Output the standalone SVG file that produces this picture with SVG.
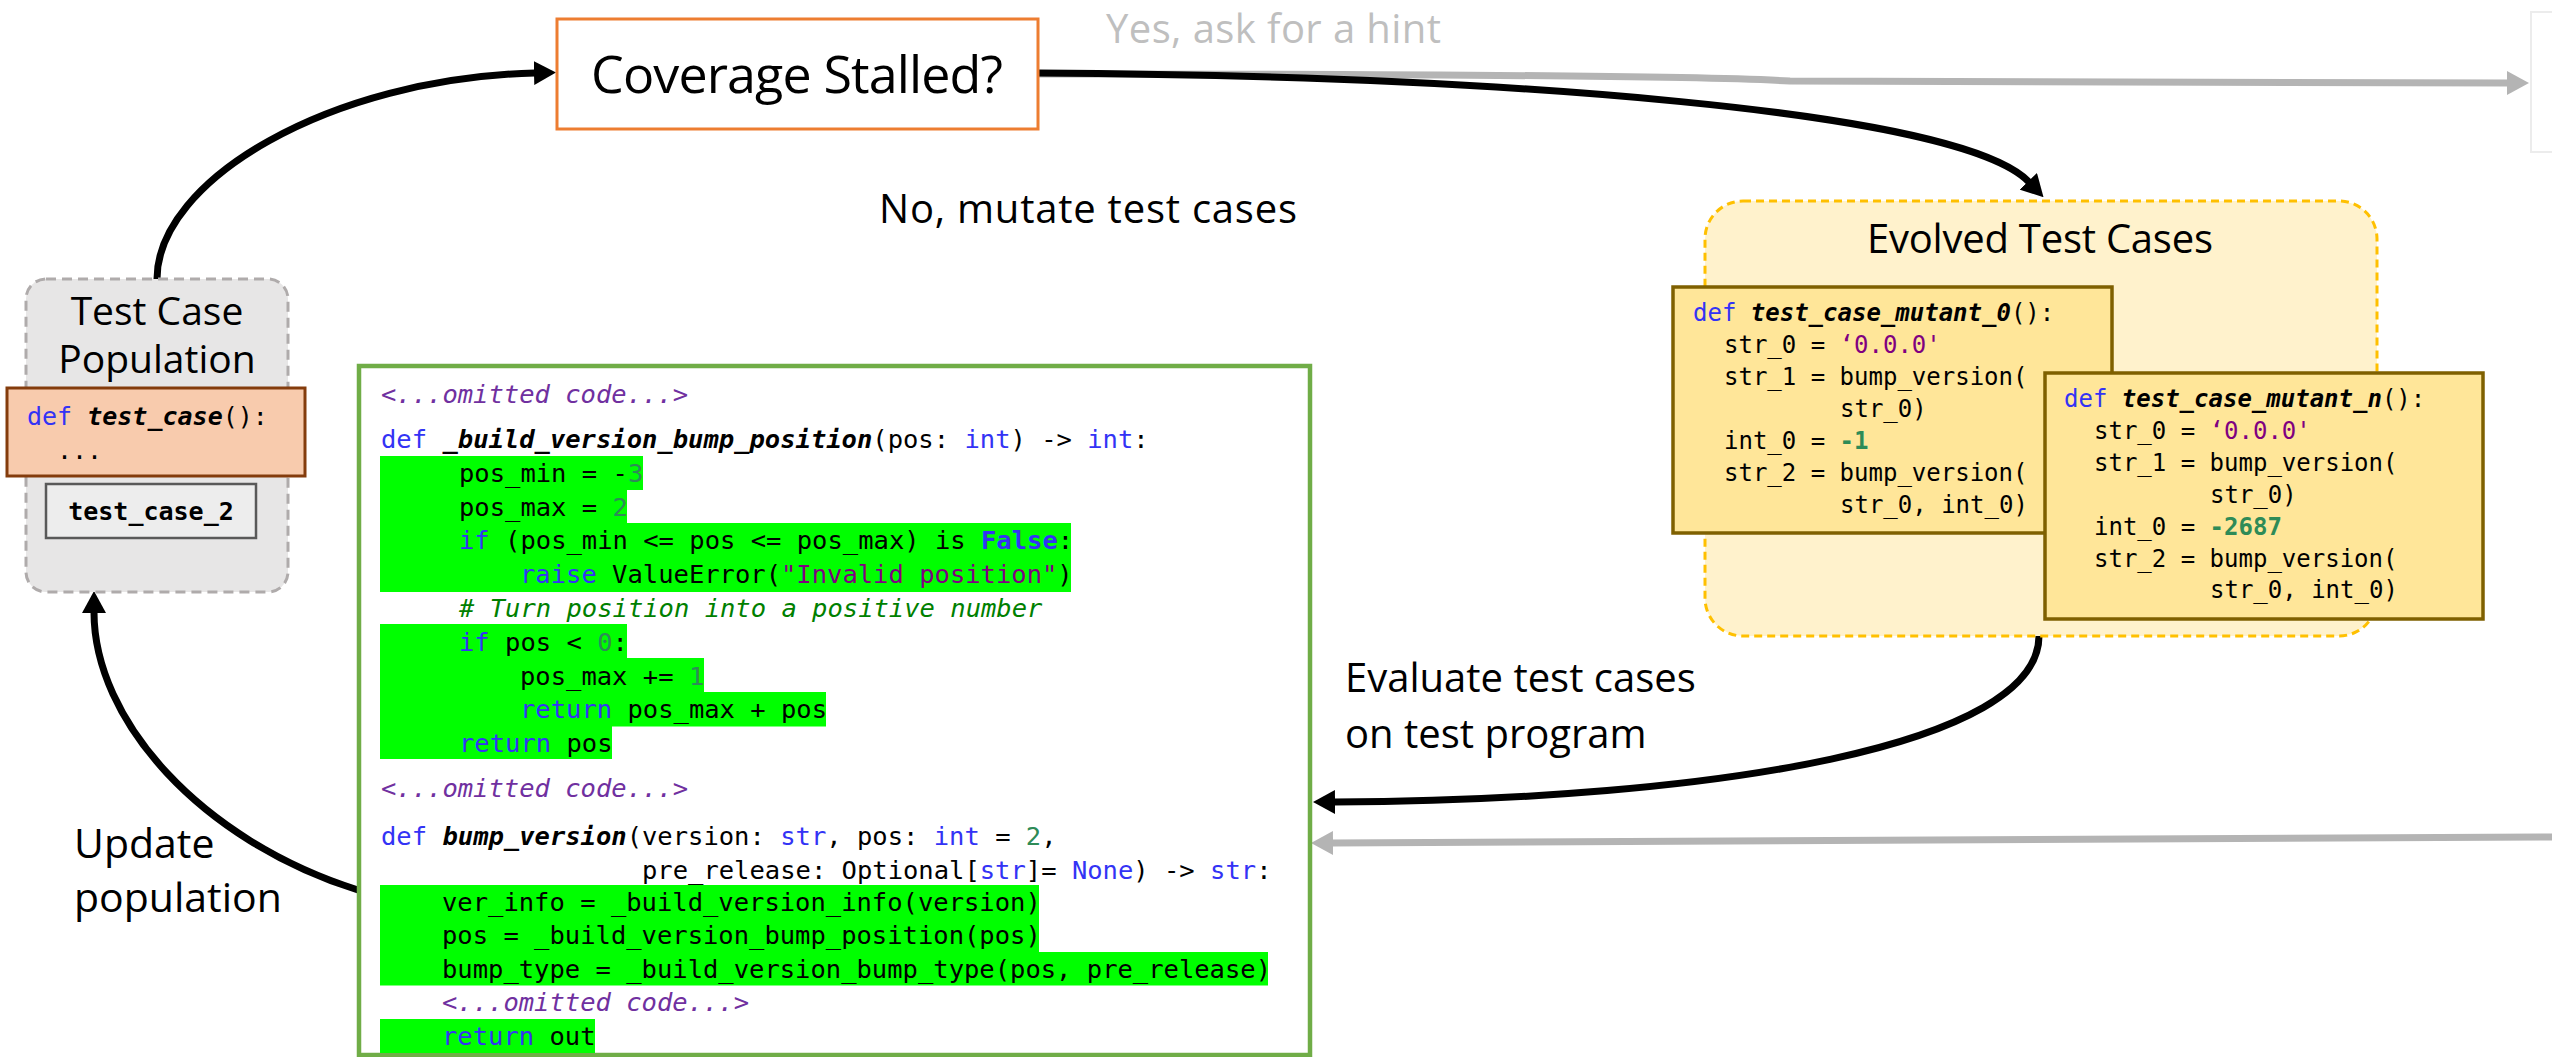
<svg xmlns="http://www.w3.org/2000/svg" width="2552" height="1057" viewBox="0 0 2552 1057">
<style>
.lbl{font-family:"Open Sans","Noto Sans","Liberation Sans",sans-serif;fill:#000}
.mono{font-family:"DejaVu Sans Mono","Liberation Mono",monospace;fill:#000}
.c{font-size:25.5px}
.t{font-size:24px}
.kw{fill:#3333F5}
.num{fill:#2E8B57}
.numb{fill:#2E8B57;font-weight:bold}
.str{fill:#800080}
.cm{fill:#008000;font-style:italic}
.om{fill:#7030A0;font-style:italic}
.fn{font-weight:bold;font-style:italic}
.hl{fill:#00FF00}
.conn{fill:none;stroke:#000;stroke-width:7}
.conng{fill:none;stroke:#B4B4B4;stroke-width:7}
</style>
<defs>
<marker id="ah" markerUnits="userSpaceOnUse" viewBox="0 -12 22 24" markerWidth="22" markerHeight="24" refX="1" refY="0" orient="auto"><path d="M0,-12 L22,0 L0,12 z" fill="#000"/></marker>
<marker id="ahg" markerUnits="userSpaceOnUse" viewBox="0 -12 22 24" markerWidth="22" markerHeight="24" refX="1" refY="0" orient="auto"><path d="M0,-12 L22,0 L0,12 z" fill="#B4B4B4"/></marker>
</defs>
<rect width="2552" height="1057" fill="#fff"/>

<g id="node-hint">
<rect x="2531" y="12" width="40" height="140" fill="#fff" stroke="#ECECEC" stroke-width="2"/>
</g>

<g id="connectors">
<path class="conng" d="M1038,74 C1400,74 1700,76 1790,81 L2508,83" marker-end="url(#ahg)"/>
<path class="conng" d="M2560,837 L1332,843" marker-end="url(#ahg)"/>
<path class="conn" d="M157,279 C157,180 330,78 535,73" marker-end="url(#ah)"/>
<path class="conn" d="M1038,73 C1500,76 1960,110 2029,182" marker-end="url(#ah)"/>
<path class="conn" d="M2039,636 C2039,745 1720,800 1334,802" marker-end="url(#ah)"/>
<path class="conn" d="M358,890 C200,840 94,720 94,612" marker-end="url(#ah)"/>
<text class="lbl" x="1106" y="43" font-size="40" style="fill:#BFBFBF" textLength="335">Yes, ask for a hint</text>
<text class="lbl" x="879" y="223" font-size="40" textLength="418">No, mutate test cases</text>
<text class="lbl" font-size="40"><tspan x="1345" y="692">Evaluate test cases</tspan><tspan x="1345" y="748">on test program</tspan></text>
<text class="lbl" font-size="41"><tspan x="74" y="858">Update</tspan><tspan x="74" y="912">population</tspan></text>
</g>

<g id="node-coverage">
<rect x="557" y="19" width="481" height="110" fill="#fff" stroke="#ED7D31" stroke-width="3"/>
<text class="lbl" x="797" y="93" font-size="52" text-anchor="middle" textLength="412">Coverage Stalled?</text>
</g>

<g id="node-population" xml:space="preserve">
<rect x="26" y="279" width="262" height="313" rx="20" fill="#E7E6E6" stroke="#AFABAB" stroke-width="3" stroke-dasharray="10,6"/>
<text class="lbl" font-size="39" text-anchor="middle"><tspan x="157" y="325">Test Case</tspan><tspan x="157" y="373">Population</tspan></text>
<rect x="7" y="388" width="298" height="88" fill="#F8CBAD" stroke="#843C0C" stroke-width="3"/>
<text class="mono" x="27" y="425" font-size="25"><tspan class="kw">def</tspan> <tspan class="fn">test_case</tspan>():</text>
<text class="mono" x="57" y="459" font-size="25">...</text>
<rect x="46" y="484" width="210" height="54" fill="#EDEDED" stroke="#595959" stroke-width="2.5"/>
<text class="mono" x="151" y="520" font-size="25" font-weight="bold" text-anchor="middle">test_case_2</text>
</g>

<g id="node-code" xml:space="preserve">
<rect x="359" y="366" width="951" height="689" fill="#fff" stroke="#70AD47" stroke-width="4.5"/>
<rect class="hl" x="380" y="456" width="263" height="34"/>
<rect class="hl" x="380" y="489.5" width="247" height="34"/>
<rect class="hl" x="380" y="523" width="691" height="69"/>
<rect class="hl" x="380" y="624" width="247" height="34.5"/>
<rect class="hl" x="380" y="658" width="324" height="34.5"/>
<rect class="hl" x="380" y="692" width="446" height="34.5"/>
<rect class="hl" x="380" y="726" width="232" height="33"/>
<rect class="hl" x="380" y="885" width="659" height="67.5"/>
<rect class="hl" x="380" y="952" width="888" height="33.5"/>
<rect class="hl" x="380" y="1019" width="215" height="34"/>
<text class="mono c om" x="381" y="403">&lt;...omitted code...&gt;</text>
<text class="mono c" x="381" y="448"><tspan class="kw">def</tspan> <tspan class="fn">_build_version_bump_position</tspan>(pos: <tspan class="kw">int</tspan>) -&gt; <tspan class="kw">int</tspan>:</text>
<text class="mono c" x="459" y="482">pos_min = -<tspan class="num">3</tspan></text>
<text class="mono c" x="459" y="516">pos_max = <tspan class="num">2</tspan></text>
<text class="mono c" x="459" y="549"><tspan class="kw">if</tspan> (pos_min &lt;= pos &lt;= pos_max) is <tspan class="kw" font-weight="bold">False</tspan>:</text>
<text class="mono c" x="520" y="583"><tspan class="kw">raise</tspan> ValueError(<tspan class="str">"Invalid position"</tspan>)</text>
<text class="mono c cm" x="459" y="617"># Turn position into a positive number</text>
<text class="mono c" x="459" y="651"><tspan class="kw">if</tspan> pos &lt; <tspan class="num">0</tspan>:</text>
<text class="mono c" x="520" y="685">pos_max += <tspan class="num">1</tspan></text>
<text class="mono c" x="520" y="718"><tspan class="kw">return</tspan> pos_max + pos</text>
<text class="mono c" x="459" y="752"><tspan class="kw">return</tspan> pos</text>
<text class="mono c om" x="381" y="797">&lt;...omitted code...&gt;</text>
<text class="mono c" x="381" y="845"><tspan class="kw">def</tspan> <tspan class="fn">bump_version</tspan>(version: <tspan class="kw">str</tspan>, pos: <tspan class="kw">int</tspan> = <tspan class="num">2</tspan>,</text>
<text class="mono c" x="642" y="879">pre_release: Optional[<tspan class="kw">str</tspan>]= <tspan class="kw">None</tspan>) -&gt; <tspan class="kw">str</tspan>:</text>
<text class="mono c" x="442" y="911">ver_info = _build_version_info(version)</text>
<text class="mono c" x="442" y="944">pos = _build_version_bump_position(pos)</text>
<text class="mono c" x="442" y="978">bump_type = _build_version_bump_type(pos, pre_release)</text>
<text class="mono c om" x="442" y="1011">&lt;...omitted code...&gt;</text>
<text class="mono c" x="442" y="1045"><tspan class="kw">return</tspan> out</text>
</g>

<g id="node-evolved">
<rect x="1705" y="201" width="672" height="435" rx="38" fill="#FFF2CC" stroke="#FFC000" stroke-width="3" stroke-dasharray="8,5"/>
<text class="lbl" x="2040" y="253" font-size="40" text-anchor="middle" textLength="346">Evolved Test Cases</text>
</g>

<g id="node-mutant-0" xml:space="preserve">
<rect x="1673" y="287" width="439" height="246" fill="#FFE699" stroke="#7F6000" stroke-width="3.5"/>
<text class="mono t" x="1693" y="321"><tspan class="kw">def</tspan> <tspan class="fn">test_case_mutant_0</tspan>():</text>
<text class="mono t" x="1724" y="353">str_0 = <tspan class="str">‘0.0.0'</tspan></text>
<text class="mono t" x="1724" y="385">str_1 = bump_version(</text>
<text class="mono t" x="1840" y="417">str_0)</text>
<text class="mono t" x="1724" y="449">int_0 = <tspan class="numb">-1</tspan></text>
<text class="mono t" x="1724" y="481">str_2 = bump_version(</text>
<text class="mono t" x="1840" y="513">str_0, int_0)</text>
</g>

<g id="node-mutant-n" xml:space="preserve">
<rect x="2045" y="373" width="438" height="246" fill="#FFE699" stroke="#7F6000" stroke-width="3.5"/>
<text class="mono t" x="2064" y="407"><tspan class="kw">def</tspan> <tspan class="fn">test_case_mutant_n</tspan>():</text>
<text class="mono t" x="2094" y="439">str_0 = <tspan class="str">‘0.0.0'</tspan></text>
<text class="mono t" x="2094" y="471">str_1 = bump_version(</text>
<text class="mono t" x="2210" y="503">str_0)</text>
<text class="mono t" x="2094" y="535">int_0 = <tspan class="numb">-2687</tspan></text>
<text class="mono t" x="2094" y="567">str_2 = bump_version(</text>
<text class="mono t" x="2210" y="598">str_0, int_0)</text>
</g>
</svg>
